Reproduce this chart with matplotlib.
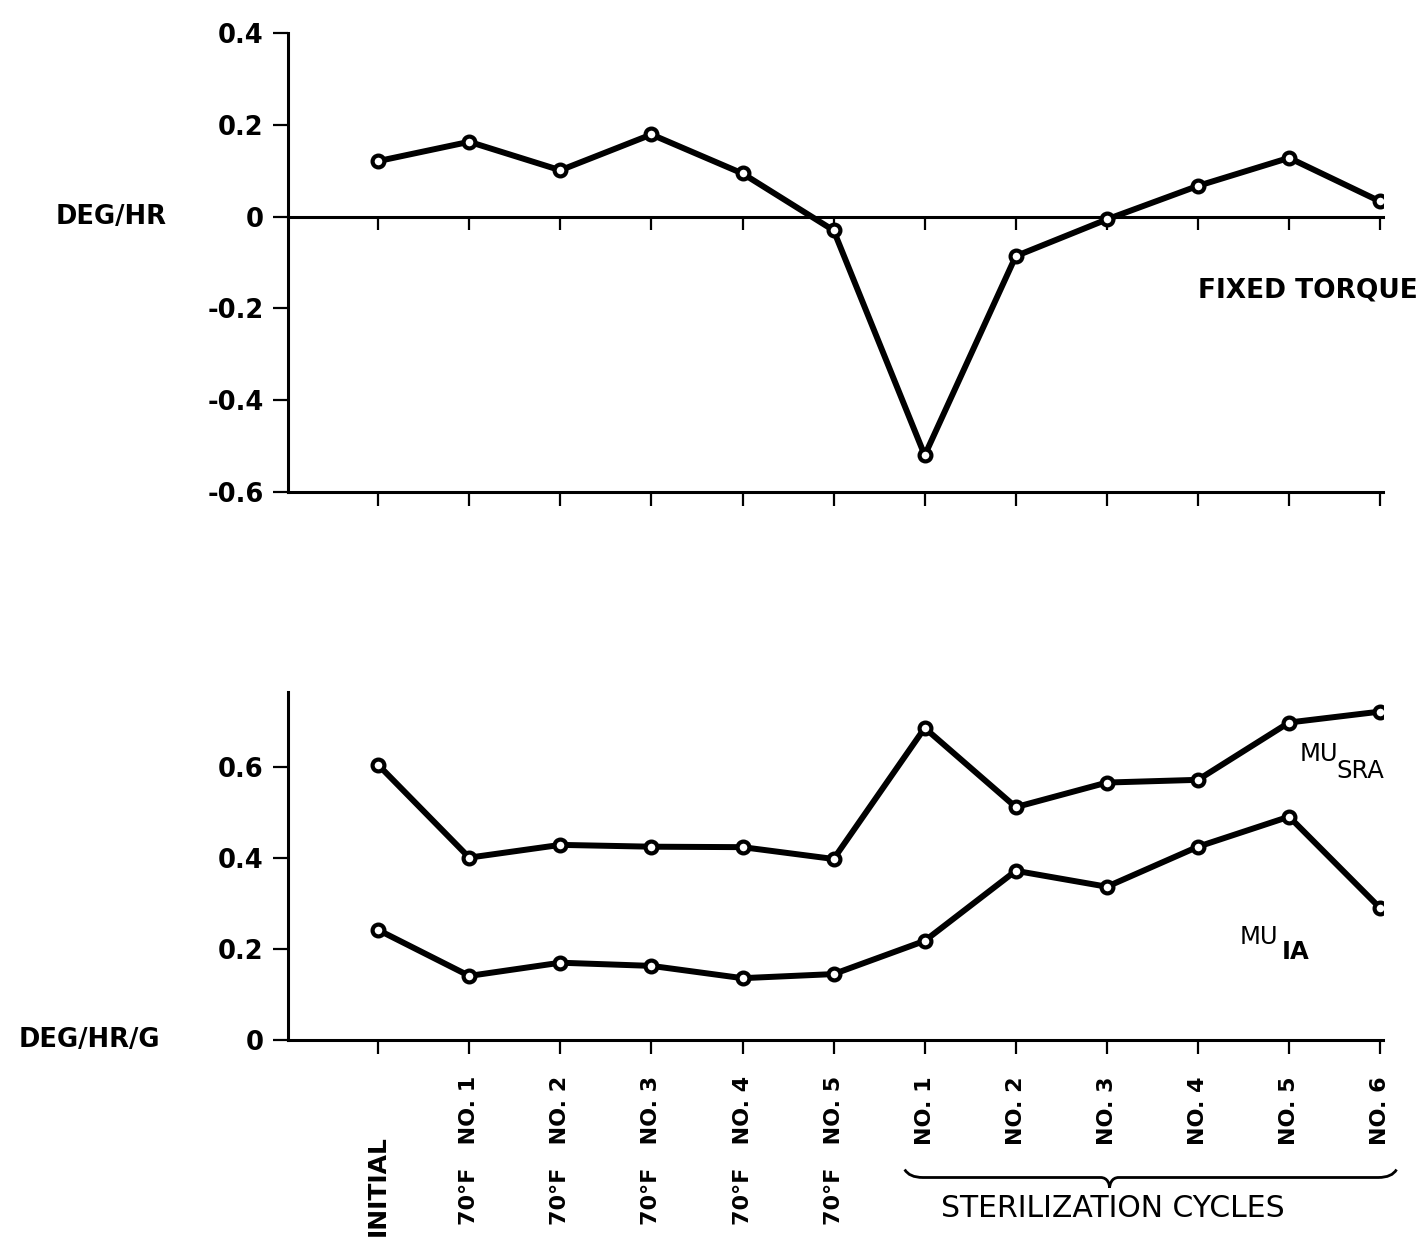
import matplotlib
matplotlib.use("Agg")
import matplotlib.pyplot as plt
import matplotlib.transforms as mtransforms
from matplotlib.path import Path
from matplotlib.patches import PathPatch

# test conditions along the x axis
categories = ["INITIAL", "70°F   NO. 1", "70°F   NO. 2", "70°F   NO. 3", "70°F   NO. 4",
              "70°F   NO. 5", "NO. 1", "NO. 2", "NO. 3", "NO. 4", "NO. 5", "NO. 6"]

# fixed torque, deg/hr
fixed_torque = [0.121, 0.163, 0.101, 0.179, 0.094, -0.030, -0.520, -0.086, -0.006, 0.067, 0.128, 0.033]
# mass unbalance, deg/hr/g
mu_sra = [0.605, 0.401, 0.429, 0.425, 0.424, 0.398, 0.686, 0.512, 0.566, 0.572, 0.698, 0.722]
mu_ia = [0.242, 0.141, 0.170, 0.163, 0.136, 0.145, 0.218, 0.372, 0.337, 0.425, 0.491, 0.290]

top_ticks = [0.4, 0.2, 0, -0.2, -0.4, -0.6]
top_tick_labels = ["0.4", "0.2", "0", "-0.2", "-0.4", "-0.6"]
bot_ticks = [0, 0.2, 0.4, 0.6]
bot_tick_labels = ["0", "0.2", "0.4", "0.6"]

x = list(range(len(categories)))

fig = plt.figure(figsize=(14.27, 12.46), dpi=100)
ax1 = fig.add_axes([0.2018, 0.6051, 0.7673, 0.3684])
ax2 = fig.add_axes([0.2018, 0.1653, 0.7673, 0.2793])

line_kw = dict(color="black", lw=4.3, marker="o", ms=8.5, mew=3,
               mfc="white", mec="black", solid_joinstyle="round", zorder=5)
tick_font = dict(fontsize=18.5, fontweight="bold", family="DejaVu Sans")

for ax in (ax1, ax2):
    ax.set_xlim(-0.99, 11.03)
    for s in ("top", "right"):
        ax.spines[s].set_visible(False)
    for s in ("left", "bottom"):
        ax.spines[s].set_linewidth(2.2)
    ax.tick_params(axis="y", direction="out", length=10.5, width=1.6, pad=7)
    ax.tick_params(axis="x", direction="out", length=10, width=1.6)
    ax.set_xticks(x)

# --- top panel: fixed torque
ax1.plot(x, fixed_torque, **line_kw)
ax1.set_ylim(-0.6, 0.4)
ax1.set_yticks(top_ticks, top_tick_labels, **tick_font)
ax1.set_xticklabels([])

# zero line with its own ticks
zero = ax1.secondary_xaxis(0.6)
zero.set_alignment("bottom")
zero.spines["bottom"].set_linewidth(2.2)
zero.set_xticks(x)
zero.set_xticklabels([])
zero.tick_params(axis="x", direction="out", length=9, width=1.6)

ax1.text(-2.32, 0, "DEG/HR", ha="right", va="center", fontsize=18.5, fontweight="bold")
ax1.text(9.0, -0.16, "FIXED TORQUE", ha="left", va="center", fontsize=19, fontweight="bold")

# --- bottom panel: mass unbalance
ax2.plot(x, mu_sra, **line_kw)
ax2.plot(x, mu_ia, **line_kw)
ax2.set_ylim(0, 0.765)
ax2.set_yticks(bot_ticks, bot_tick_labels, **tick_font)
ax2.set_xticks(x, categories, rotation=90, fontsize=16, fontweight="bold")
ax2.tick_params(axis="x", pad=16)

# INITIAL sits at the bottom of the label block
lab0 = ax2.get_xticklabels()[0]
lab0.set_fontsize(18)
lab0.set_verticalalignment("bottom")
lab0.set_transform(lab0.get_transform() + mtransforms.ScaledTranslation(0, -1.6, fig.dpi_scale_trans))

ax2.text(-2.39, 0, "DEG/HR/G", ha="right", va="center", fontsize=18.5, fontweight="bold")

ax2.text(10.12, 0.629, "MU", ha="left", va="center", fontsize=17.5)
ax2.text(10.52, 0.591, "SRA", ha="left", va="center", fontsize=17.5)
ax2.text(9.46, 0.226, "MU", ha="left", va="center", fontsize=17.5)
ax2.text(9.92, 0.193, "IA", ha="left", va="center", fontsize=17.5, fontweight="bold")

# brace under the sterilization cycles
bt = mtransforms.blended_transform_factory(ax2.transData, ax2.transAxes)
xl, xm, xr = 5.78, 8.03, 11.18
yb, ye, yt = -0.395, -0.372, -0.425
verts = [(xl, ye), (xl + 0.05, yb), (xl + 0.2, yb),
         (xm - 0.1, yb),
         (xm - 0.02, yb), (xm, yt + 0.01), (xm, yt),
         (xm, yt + 0.01), (xm + 0.02, yb), (xm + 0.1, yb),
         (xr - 0.2, yb),
         (xr - 0.05, yb), (xr, ye)]
codes = [Path.MOVETO, Path.CURVE3, Path.CURVE3,
         Path.LINETO,
         Path.CURVE4, Path.CURVE4, Path.CURVE4,
         Path.CURVE4, Path.CURVE4, Path.CURVE4,
         Path.LINETO,
         Path.CURVE3, Path.CURVE3]
ax2.add_patch(PathPatch(Path(verts, codes), transform=bt, fill=False, lw=2,
                        color="black", clip_on=False))
ax2.text(8.06, -0.483, "STERILIZATION CYCLES", transform=bt, ha="center",
         va="center", fontsize=21.5)

fig.savefig("out.png", dpi=100)
